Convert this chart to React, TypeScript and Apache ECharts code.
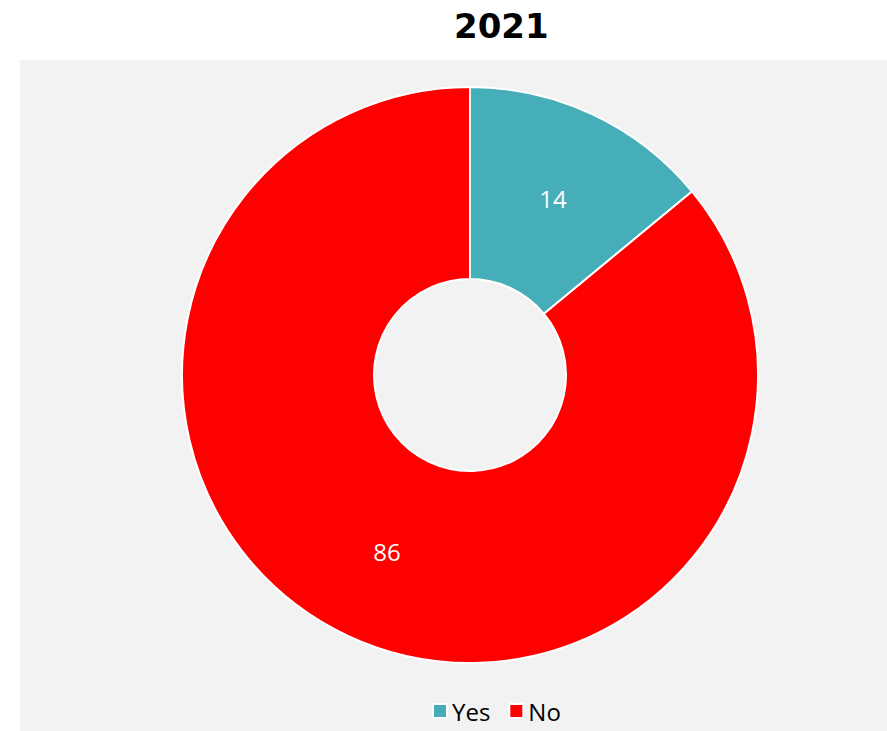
import React, { useEffect, useRef } from "react";
import * as echarts from "echarts";

const categories = ["Yes", "No"];
const values = [14, 86];
const colors = ["#46AEB8", "#FF0000"];
const titleText = "2021";

export default function App() {
  const ref = useRef<HTMLDivElement>(null);
  useEffect(() => {
    document.body.style.margin = "0";
    const chart = echarts.init(ref.current!, null, { renderer: "svg" });
    chart.setOption({
      animation: false,
      backgroundColor: "#ffffff",
      title: {
        text: titleText,
        left: 449,
        top: 4,
        textStyle: {
          fontFamily: "DejaVu Sans",
          fontWeight: "bold",
          fontSize: 34,
          color: "#000000",
        },
      },
      graphic: [
        {
          type: "rect",
          z: -10,
          silent: true,
          shape: { x: 20, y: 60, width: 867, height: 671 },
          style: { fill: "#F2F2F2" },
        },
      ],
      legend: {
        data: categories,
        left: 427,
        top: 694,
        itemWidth: 14,
        itemHeight: 14,
        itemGap: 18,
        icon: "rect",
        textStyle: { fontFamily: "Open Sans", fontSize: 24, color: "#000000" },
      },
      series: [
        {
          type: "pie",
          center: [470, 375],
          radius: [96, 288],
          startAngle: 90,
          clockwise: true,
          itemStyle: { borderColor: "#ffffff", borderWidth: 2 },
          label: {
            show: true,
            position: "inside",
            formatter: "{c}",
            color: "#ffffff",
            fontFamily: "Open Sans",
            fontSize: 24,
          },
          labelLine: { show: false },
          emphasis: { disabled: true },
          data: categories.map((c, i) => ({
            name: c,
            value: values[i],
            itemStyle: { color: colors[i] },
          })),
        },
      ],
    });
    return () => chart.dispose();
  }, []);
  return <div ref={ref} style={{ width: 887, height: 731 }} />;
}
